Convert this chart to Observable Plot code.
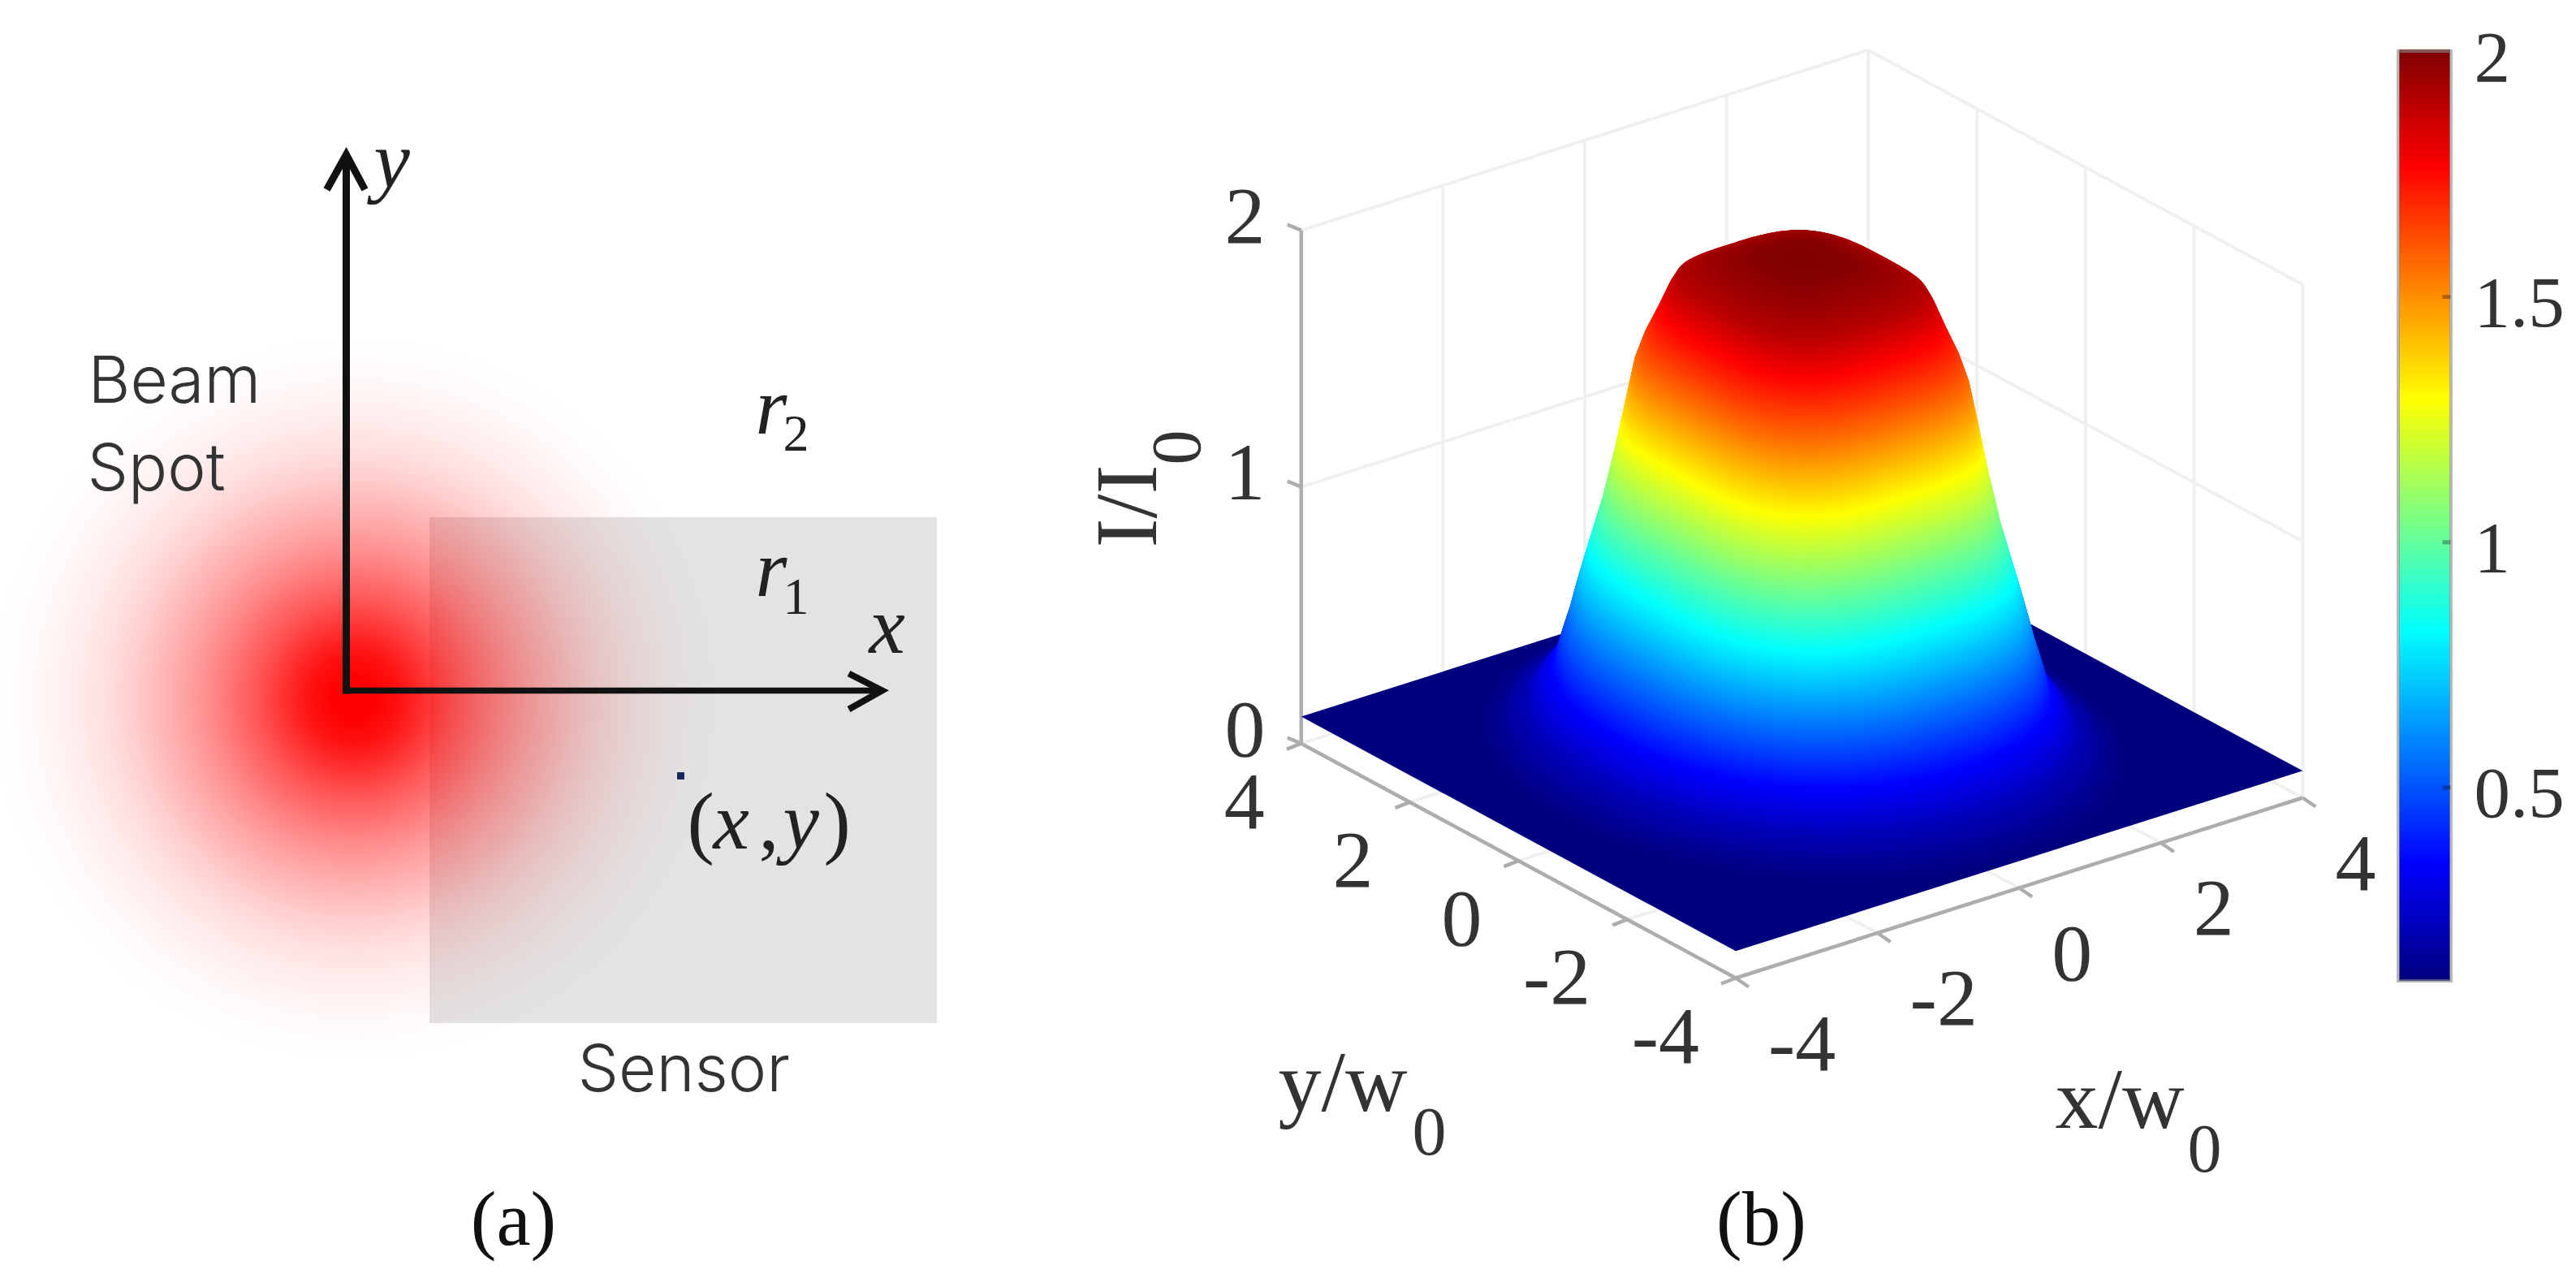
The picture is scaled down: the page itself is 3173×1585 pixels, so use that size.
<!DOCTYPE html>
<html><head><meta charset="utf-8">
<script src="https://cdn.jsdelivr.net/npm/d3@7"></script>
<script src="https://cdn.jsdelivr.net/npm/@observablehq/plot@0.6"></script>
<style>html,body{margin:0;padding:0;background:#fff;overflow:hidden}svg{display:block}</style>
</head><body><div id="chart"></div>
<script>
// ---- values ----
// beam spot (a): distance from the centre in px -> red opacity
const beamDistance = [0, 25, 56, 84, 124, 177, 213, 271, 302, 347, 390, 420, 450];
const beamOpacity  = [1, 1, .93, .82, .65, .46, .35, .2, .135, .07, .03, .012, 0];
// intensity surface (b): level height, half-size of its contour, squareness of its contour
const levelHeight  = [.105, .13, .207, .356, .55, .723, .85, 1.0, 1.2, 1.4, 1.55, 1.65, 1.75, 1.85, 1.9, 1.95, 1.99, 2.0];
const levelRadius  = [3.72, 3.5, 3.1, 2.74, 2.49, 2.3, 2.16, 2.01, 1.86, 1.75, 1.666, 1.58, 1.45, 1.33, 1.25, .92, .45, 0];
const levelPower   = [2, 2, 2.1, 2.2, 2.45, 2.7, 2.9, 3.1, 3.3, 3.3, 3.3, 3.2, 3.2, 3.2, 3.2, 3.5, 3.5, 3.5];
// colormap
const jetHeight = [.105, .342, .816, 1.289, 1.763, 2];
const jetColor  = ["#00007f", "#0000ff", "#00ffff", "#ffff00", "#ff0000", "#7f0000"];
// ticks
const xyTicks = [-4, -2, 0, 2, 4];
const gridTicks = [-4, -2, 0, 2, 4];
const zTicks = [0, 1, 2];
const colorbarTicks = [.5, 1, 1.5, 2];
const colorbarTickLabels = ["0.5", "1", "1.5", "2"];

// ---- layout of the figure ----
const W = 3173, H = 1585;
const serif = "Liberation Serif", sans = "Inter";
const floorCorner = [2137.5, 1204], ax = [87.3, -27.75], ay = [-66.9, -36.1], zUnit = 316;
const P = (x, y, z) => [
  floorCorner[0] + (x + 4) * ax[0] + (y + 4) * ay[0],
  floorCorner[1] + (x + 4) * ax[1] + (y + 4) * ay[1] - z * zUnit
];
const stretchX = .93, stretchY = 1.07;

// surface contours, stacked from the floor up
const radiusAt = d3.scaleLinear(levelHeight, levelRadius);
const powerAt  = d3.scaleLinear(levelHeight, levelPower);
const floorZ = levelHeight[0];
const poly = (pts, z) => ({type: "Feature", properties: {z},
  geometry: {type: "Polygon", coordinates: [[...pts, pts[0]]]}});
const contours = [];
for (let z = floorZ + .004; z < 2; z += .005) {
  const r = radiusAt(z), p = powerAt(z), pts = [];
  for (let i = 0; i < 160; i++) {
    const t = i / 160 * 2 * Math.PI, c = Math.cos(t), s = Math.sin(t);
    const k = r / Math.pow(Math.abs(c) ** p + Math.abs(s) ** p, 1 / p);
    pts.push(P(k * c * stretchX, k * s * stretchY, z));
  }
  contours.push(poly(pts.slice().reverse(), z));
}
const floorPoly = poly([P(-4,-4,floorZ), P(-4,4,floorZ), P(4,4,floorZ), P(4,-4,floorZ)], floorZ);

// axes box
const seg = (a, b) => ({x1: a[0], y1: a[1], x2: b[0], y2: b[1]});
const gridLines = [
  ...gridTicks.map(x => seg(P(x, 4, 0), P(x, 4, 2))),
  ...gridTicks.map(y => seg(P(4, y, 0), P(4, y, 2))),
  ...zTicks.slice(1).flatMap(z => [seg(P(-4, 4, z), P(4, 4, z)), seg(P(4, 4, z), P(4, -4, z))]),
  ...gridTicks.map(x => seg(P(x, -4, 0), P(x, 4, 0))),
  ...gridTicks.map(y => seg(P(-4, y, 0), P(4, y, 0)))
];
const axisLines = [
  seg(P(-4, 4, 0), P(-4, 4, 2)),
  seg(P(-4, 4, 0), P(-4, -4, 0)),
  seg(P(-4, -4, 0), P(4, -4, 0)),
  ...zTicks.map(z => { const a = P(-4, 4, z); return seg(a, [a[0] - 17, a[1] - 7]); }),
  ...xyTicks.map(y => { const a = P(-4, y, 0); return seg(a, [a[0] - 18, a[1] + 7]); }),
  ...xyTicks.map(x => { const a = P(x, -4, 0); return seg(a, [a[0] + 16, a[1] + 11]); })
];

// colorbar
const cbLeft = 2953, cbRight = 3020, cbTop = 63, cbBottom = 1208;
const cbY = d3.scaleLinear([2, floorZ], [cbTop, cbBottom]);
const cbRows = d3.range(floorZ, 2, .004).map(z => ({z}));

// text helpers
const T = (text, x, y, size, o = {}) => Plot.text([text], {
  x: () => x, y: () => y, text: d => d, fontSize: size,
  fontFamily: o.font ?? serif, fontStyle: o.italic ? "italic" : "normal",
  fontWeight: o.weight ?? 400, textAnchor: o.anchor ?? "start", lineAnchor: "bottom",
  fill: o.fill ?? "#333", rotate: o.rotate ?? 0
});
const line = (pts, stroke, w) => Plot.line(pts, {x: d => d[0], y: d => d[1], stroke, strokeWidth: w,
  strokeLinejoin: "miter", strokeLinecap: "butt", strokeMiterlimit: 8, curve: "linear"});

const origin = [426, 850];
const chart = Plot.plot({
  width: W, height: H, margin: 0,
  x: {domain: [0, W], range: [0, W], axis: null},
  y: {domain: [0, H], range: [0, H], axis: null},
  color: {type: "linear", domain: jetHeight, range: jetColor, interpolate: "rgb"},
  style: {background: "#fff"},
  marks: [
    // --- panel (a)
    Plot.rect([0], {x1: () => 529, x2: () => 1154, y1: () => 637, y2: () => 1260, fill: "#e3e3e3"}),
    Plot.dot([0], {x: () => 436, y: () => 860, r: beamDistance[beamDistance.length - 1], fill: "url(#beam)", stroke: "none"}),
    line([[origin[0], origin[1] + 4], [origin[0], 195]], "#111", 9),
    line([[402, 233], [426, 190], [449, 233]], "#111", 9),
    line([[origin[0] - 4, origin[1]], [1082, origin[1]]], "#111", 7.5),
    line([[1045, 829], [1086, 850], [1045, 873]], "#111", 8),
    Plot.dot([0], {x: () => 838, y: () => 955, r: 5, fill: "#14245a", stroke: "none", symbol: "square"}),
    T("y", 460, 230, 100, {italic: true, fill: "#222"}),
    T("x", 1070, 803, 100, {italic: true, fill: "#222"}),
    T("r", 930, 533, 100, {italic: true, fill: "#222"}),
    T("2", 964, 554, 64, {fill: "#222"}),
    T("r", 930, 733, 100, {italic: true, fill: "#222"}),
    T("1", 964, 755, 64, {fill: "#222"}),
    T("(", 846, 1044, 100, {fill: "#222"}),
    T("x", 878, 1044, 100, {italic: true, fill: "#222"}),
    T(",", 934, 1044, 100, {fill: "#222"}),
    T("y", 964, 1044, 100, {italic: true, fill: "#222"}),
    T(")", 1014, 1044, 100, {fill: "#222"}),
    T("Beam", 108, 495, 80, {font: sans, weight: 300}),
    T("Spot", 107, 603, 80, {font: sans, weight: 300}),
    T("Sensor", 711, 1343, 80, {font: sans, weight: 300}),
    T("(a)", 632, 1532, 95, {anchor: "middle", fill: "#111"}),

    // --- panel (b)
    Plot.link(gridLines, {x1: "x1", y1: "y1", x2: "x2", y2: "y2", stroke: "#f0f0f0", strokeWidth: 4}),
    Plot.link(axisLines, {x1: "x1", y1: "y1", x2: "x2", y2: "y2", stroke: "#adadad", strokeWidth: 4.5}),
    Plot.geo([floorPoly], {fill: d => d.properties.z, stroke: "none"}),
    Plot.geo(contours, {fill: d => d.properties.z, stroke: "none"}),
    ...zTicks.map(z => T(String(z), 1558, P(-4, 4, z)[1] + 15, 100, {anchor: "end"})),
    ...xyTicks.map(x => T(String(x), P(x, -4, 0)[0] + 40, P(x, -4, 0)[1] + 113, 100)),
    ...xyTicks.map(y => T(String(y), P(-4, y, 0)[0] - 45, P(-4, y, 0)[1] + 104, 100, {anchor: "end"})),
    T("I/I", 1423, 674, 108, {rotate: -90}),
    T("0", 1477, 572, 86, {rotate: -90}),
    T("y/w", 1574, 1367, 106),
    T("0", 1739, 1421, 84),
    T("x/w", 2531, 1388, 106),
    T("0", 2694, 1442, 84),
    T("(b)", 2169, 1532, 95, {anchor: "middle", fill: "#111"}),

    // --- colorbar
    Plot.rect(cbRows, {x1: () => cbLeft + 2, x2: () => cbRight - 2,
      y1: d => cbY(d.z), y2: d => cbY(d.z) - 4, fill: "z"}),
    Plot.rect([0], {x1: () => cbLeft + 1, x2: () => cbRight - 1, y1: () => cbTop, y2: () => cbBottom,
      fill: "none", stroke: "#8a8a8a", strokeOpacity: .6, strokeWidth: 4}),
    ...colorbarTicks.slice(0, 3).map(z => Plot.link([0], {x1: () => cbRight - 12, x2: () => cbRight - 2,
      y1: () => cbY(z), y2: () => cbY(z), stroke: "#000", strokeOpacity: .3, strokeWidth: 5})),
    ...colorbarTicks.map((z, i) => T(colorbarTickLabels[i], 3047, cbY(z) + 36, 89))
  ]
});
const ns = "http://www.w3.org/2000/svg";
const defs = document.createElementNS(ns, "defs");
const grad = document.createElementNS(ns, "radialGradient");
grad.setAttribute("id", "beam");
const R = beamDistance[beamDistance.length - 1];
beamDistance.forEach((d, i) => {
  const s = document.createElementNS(ns, "stop");
  s.setAttribute("offset", d / R);
  s.setAttribute("stop-color", "#ff0000");
  s.setAttribute("stop-opacity", beamOpacity[i]);
  grad.appendChild(s);
});
defs.appendChild(grad);
chart.insertBefore(defs, chart.firstChild);
document.getElementById("chart").appendChild(chart);
</script></body></html>
